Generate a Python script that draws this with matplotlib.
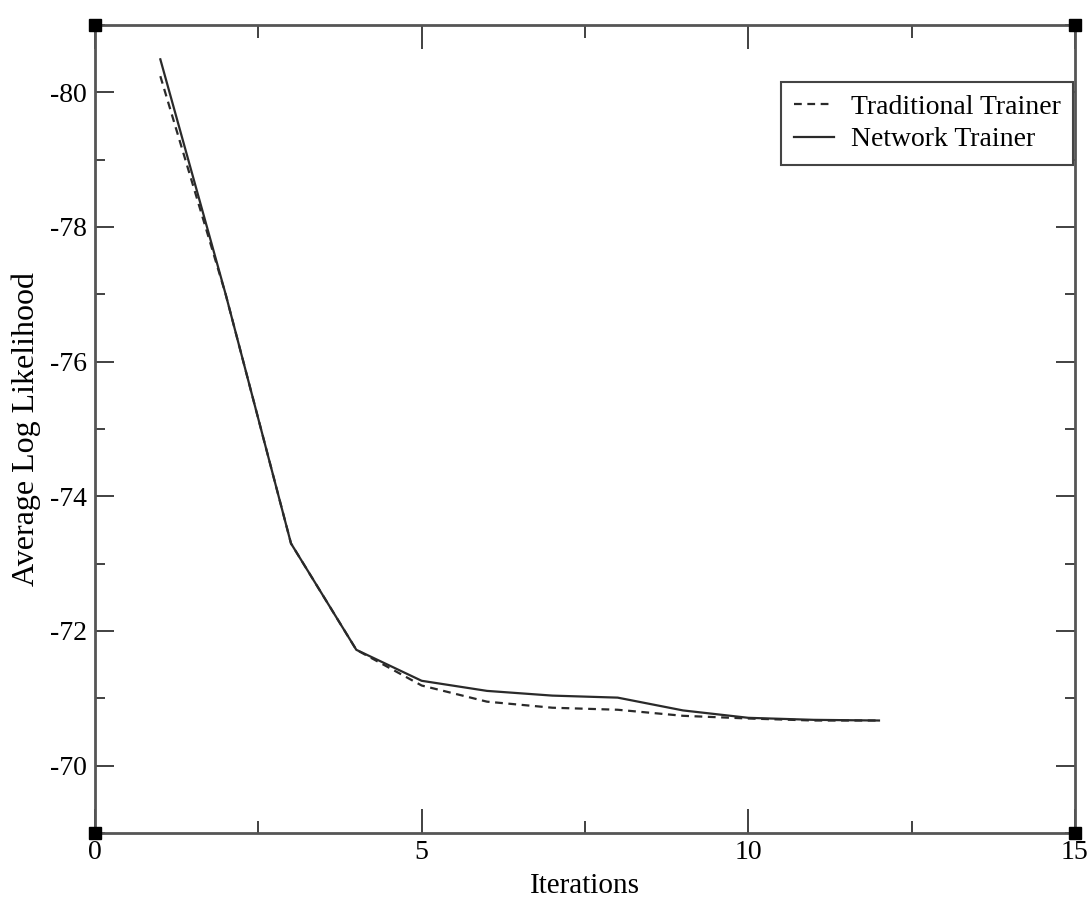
import matplotlib
matplotlib.use("Agg")
import matplotlib.pyplot as plt
from matplotlib.ticker import MultipleLocator

plt.rcParams['font.family'] = ['Liberation Serif', 'DejaVu Serif']
plt.rcParams['axes.unicode_minus'] = False

iterations = [1, 2, 3, 4, 5, 6, 7, 8, 9, 10, 11, 12]
traditional = [-80.24, -77.0, -73.3, -71.72, -71.19, -70.95, -70.86, -70.83, -70.74, -70.70, -70.67, -70.67]
network = [-80.49, -77.0, -73.3, -71.72, -71.26, -71.11, -71.04, -71.01, -70.82, -70.71, -70.68, -70.67]

fig = plt.figure(figsize=(10.92, 9.05), dpi=100)
ax = fig.add_axes([0.087, 0.0796, 0.8974, 0.8928])

ax.plot(iterations, traditional, linestyle=(0, (3.5, 2.5)), color='#2a2a2a', lw=1.6, label='Traditional Trainer')
ax.plot(iterations, network, linestyle='-', color='#2a2a2a', lw=1.6, label='Network Trainer')

ax.set_xlim(0, 15)
ax.set_ylim(-69, -81)
ax.xaxis.set_major_locator(MultipleLocator(5))
ax.xaxis.set_minor_locator(MultipleLocator(2.5))
ax.yaxis.set_major_locator(MultipleLocator(2))
ax.yaxis.set_minor_locator(MultipleLocator(1))

ax.tick_params(axis='both', which='both', direction='in', top=True, right=True,
               colors='#333333', labelcolor='black', labelsize=20)
ax.tick_params(axis='x', which='major', length=17, width=1.3, pad=5)
ax.tick_params(axis='x', which='minor', length=9, width=1.3)
ax.tick_params(axis='y', which='major', length=14, width=1.3, pad=6)
ax.tick_params(axis='y', which='minor', length=7, width=1.3)

for sp in ax.spines.values():
    sp.set_color('#555555')
    sp.set_linewidth(2)

ax.plot([0, 1, 0, 1], [0, 0, 1, 1], 's', color='black', ms=9,
        transform=ax.transAxes, clip_on=False, zorder=5)

ax.set_xlabel('Iterations', fontsize=21, labelpad=6)
ax.set_ylabel('Average Log Likelihood', fontsize=23, labelpad=6)

leg = ax.legend(loc='upper right', bbox_to_anchor=(0.998, 0.9295), borderaxespad=0,
                fancybox=False, edgecolor='#444444', fontsize=20, handlelength=1.45,
                handletextpad=0.6, borderpad=0.45, labelspacing=0.25, framealpha=1)
leg.get_frame().set_linewidth(1.5)

fig.savefig('out.png', dpi=100)
